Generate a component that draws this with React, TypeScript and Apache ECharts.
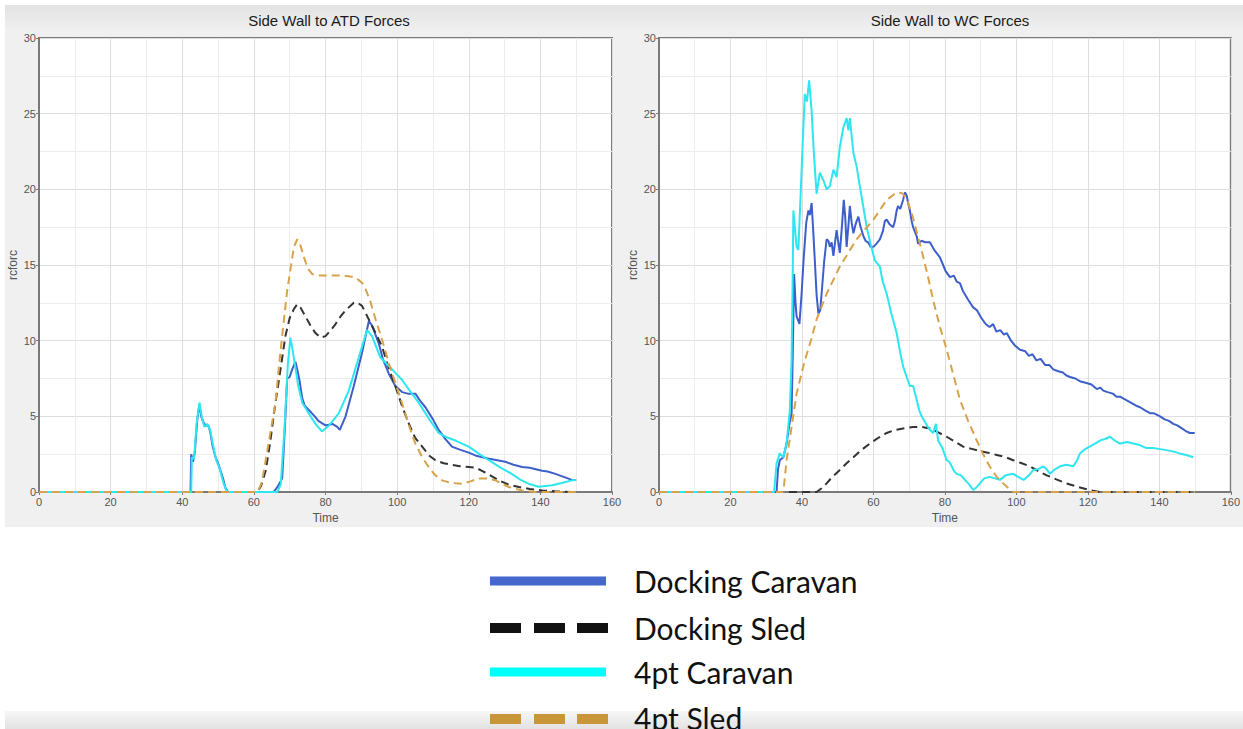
import React, { useEffect, useRef } from "react";
import * as echarts from "echarts";

const titles = ["Side Wall to ATD Forces", "Side Wall to WC Forces"];
const seriesNames = ["Docking Caravan", "Docking Sled", "4pt Caravan", "4pt Sled"];
const xTicks = [0, 20, 40, 60, 80, 100, 120, 140, 160];
const yTicks = [0, 5, 10, 15, 20, 25, 30];

// ---- Side Wall to ATD Forces ----
const atdDockingCaravan: [number, number][] = [
  [0, 0], [42.3, 0], [42.5, 2.5], [43, 2.0], [43.5, 2.6], [44.2, 4.8], [44.8, 5.8], [45.3, 5.0], [45.9, 4.6],
  [46.5, 4.4], [47.3, 4.4], [47.8, 4.0], [48.5, 3.0], [49.3, 2.3], [50, 1.9], [50.7, 1.4], [51.5, 0.8], [52, 0.3],
  [52.8, 0], [65.5, 0], [66.5, 0.3], [67.9, 0.9], [68.6, 4], [69.3, 7.5], [70, 7.6], [70.7, 8.1], [71.6, 8.6],
  [72.2, 8.0], [72.8, 7.3], [73.5, 6.2], [74.2, 5.7], [75.8, 5.3], [77, 5.0], [78, 4.7], [80, 4.4], [81.9, 4.5],
  [83.3, 4.3], [84, 4.1], [85.6, 5.0], [87.9, 7.0], [90.2, 9.2], [92.1, 11.3], [93, 11.0], [94.9, 9.8], [96, 8.8],
  [97.7, 7.8], [99.5, 7.0], [101.4, 6.6], [103, 6.5], [105.1, 6.5], [106.5, 6.0], [107.9, 5.6], [110, 4.8],
  [111.6, 4.1], [113.5, 3.5], [115.3, 3.0], [117.5, 2.8], [120, 2.6], [122, 2.4], [125.6, 2.2], [128, 2.1],
  [130.2, 2.0], [132.5, 1.8], [134.9, 1.65], [137, 1.6], [140.5, 1.4], [142, 1.35], [144.2, 1.2], [146.5, 1.0],
  [148.8, 0.8], [150, 0.8],
];
const atdDockingSled: [number, number][] = [
  [0, 0], [61, 0], [62, 0.4], [63.3, 1.4], [64.5, 3.2], [66, 5.85], [67.5, 8.2], [68.8, 10.3], [70, 11.5],
  [71.2, 12.1], [72.1, 12.4], [73, 12.2], [74.4, 11.6], [75.8, 11.0], [77.2, 10.5], [78.6, 10.2], [80, 10.3],
  [81.5, 10.7], [82.8, 11.1], [84.2, 11.6], [85.6, 12.0], [87.9, 12.5], [89, 12.5], [90.2, 12.3], [92.1, 11.4],
  [94, 10.5], [95.8, 9.6], [97.5, 8.3], [99.5, 7.0], [101.5, 5.6], [103.3, 4.5], [105, 3.6], [107, 3.0],
  [109, 2.4], [110.7, 2.1], [113, 1.9], [115.3, 1.8], [117.5, 1.7], [120, 1.65], [122, 1.6], [123.7, 1.4],
  [126, 1.1], [128.4, 0.77], [131, 0.5], [134, 0.33], [137, 0.2], [140.5, 0.1], [144, 0.05], [148.8, 0], [150, 0],
];
const atd4ptCaravan: [number, number][] = [
  [0, 0], [42.5, 0], [42.7, 2.3], [43.3, 2.2], [44, 4.5], [44.8, 5.9], [45.5, 4.9], [46.2, 4.3], [47, 4.5],
  [47.8, 4.1], [48.5, 3.2], [49.5, 2.1], [50.5, 1.5], [51.5, 0.6], [52.3, 0.1], [53, 0], [66.5, 0], [67.5, 0.5],
  [68.5, 4], [69.5, 8.5], [70.2, 10.2], [70.8, 9.4], [71.4, 8.5], [72.4, 7.0], [73.5, 5.9], [75.3, 5.2],
  [77.2, 4.5], [79, 4.0], [81, 4.4], [83.7, 5.2], [86.5, 6.7], [89.3, 8.9], [91.6, 10.7], [93, 10.3],
  [95.3, 8.9], [98.6, 8.1], [101.4, 7.4], [103.5, 6.7], [106, 5.9], [109, 4.8], [111.6, 3.9], [114, 3.6],
  [116.3, 3.4], [120, 3.0], [123, 2.5], [125.6, 2.1], [129, 1.6], [132, 1.2], [134.5, 0.8], [136.7, 0.55],
  [139.5, 0.35], [143.3, 0.45], [146, 0.6], [148.8, 0.77], [150, 0.8],
];
const atd4ptSled: [number, number][] = [
  [0, 0], [61, 0], [62, 0.5], [62.8, 1.4], [64.3, 3.5], [66, 5.85], [67.3, 9], [68.4, 11.4], [69.3, 13.3],
  [70.2, 14.7], [71.2, 16.2], [72.1, 16.7], [73, 16.3], [74, 15.5], [75, 14.8], [76.3, 14.4], [78, 14.3],
  [80, 14.3], [84, 14.3], [86.5, 14.25], [88, 14.2], [89.3, 14.0], [90.3, 13.8], [91.2, 13.4], [92.5, 12.6],
  [94, 11.4], [96, 9.9], [97.7, 8.5], [99.5, 7.2], [101.4, 5.85], [103.3, 4.4], [105.1, 3.2], [107, 2.3],
  [108.8, 1.65], [110.7, 1.1], [112.6, 0.77], [115, 0.6], [118.1, 0.55], [120.5, 0.7], [122.8, 0.9], [125, 0.9],
  [127.4, 0.77], [129.3, 0.55], [131.2, 0.33], [134.9, 0.1], [138.6, 0], [150, 0],
];

// ---- Side Wall to WC Forces ----
const wcDockingCaravan: [number, number][] = [
  [0, 0], [32.9, 0], [33.3, 1.5], [33.8, 2.1], [34.8, 2.3], [35.7, 3.2], [36.5, 4.5], [37.1, 5.2], [37.5, 10],
  [37.8, 14.4], [38.2, 12.5], [38.5, 11.6], [39.3, 11.1], [39.9, 13.1], [40.5, 15.5], [41.2, 17.8], [41.8, 18.6],
  [42.2, 18.3], [42.7, 19.1], [43.1, 17.5], [43.6, 15.3], [44.1, 13], [44.6, 11.8], [45.1, 12.0], [45.5, 13.1],
  [46.2, 15.2], [46.9, 16.7], [47.4, 16.6], [47.8, 16.2], [48.3, 16.5], [48.8, 15.6], [49.2, 16.4], [49.7, 17.3],
  [50.1, 16.6], [50.6, 15.8], [51.2, 17.6], [51.7, 19.3], [52.1, 18.2], [52.5, 16.2], [53, 17.6], [53.4, 18.9],
  [53.9, 17.8], [54.4, 17.1], [54.9, 17.6], [55.3, 17.9], [55.8, 18.2], [56.3, 17.6], [56.7, 17.3], [57.2, 16.9],
  [57.8, 16.6], [58.5, 16.5], [59.2, 16.2], [60, 16.2], [60.8, 16.4], [61.8, 16.7], [62.6, 17.2], [63.2, 17.9],
  [63.7, 18.0], [64.5, 17.7], [65.5, 17.5], [66, 17.9], [66.5, 18.6], [66.9, 18.9], [67.5, 18.7], [68.3, 19.3],
  [68.8, 19.8], [69.3, 19.6], [69.7, 19.1], [70.2, 18.6], [70.7, 17.9], [71.1, 17.5], [72.1, 16.9], [72.5, 16.4],
  [73.5, 16.6], [74.5, 16.5], [75.8, 16.5], [77, 16.0], [78.6, 15.5], [79.5, 15.0], [80.2, 14.6], [81.4, 14.2],
  [82.5, 14.3], [83.3, 13.9], [84.2, 13.8], [85, 13.3], [86.5, 12.7], [87.9, 12.2], [89, 12.0], [90.2, 11.5],
  [91.4, 11.1], [92.5, 10.9], [93.5, 11.1], [94.4, 10.6], [95.5, 10.7], [96.5, 10.4], [97.3, 10.5], [98.5, 10.0],
  [99.5, 9.7], [101, 9.4], [102.5, 9.3], [103.5, 9.0], [104.5, 9.1], [105.6, 8.7], [106.8, 8.8], [108, 8.4],
  [109.2, 8.4], [110.3, 8.1], [111.5, 8.0], [113, 7.9], [114, 7.7], [115, 7.6], [116.5, 7.5], [118, 7.3],
  [119.6, 7.2], [121, 7.1], [122.5, 6.8], [123.5, 6.9], [124.3, 6.7], [125.5, 6.6], [127, 6.5], [128, 6.3],
  [129, 6.3], [130.5, 6.1], [132, 5.9], [133.5, 5.7], [134.6, 5.6], [136, 5.4], [137.5, 5.2], [138.5, 5.2],
  [140.2, 5.0], [141.5, 4.8], [142.7, 4.7], [143.9, 4.5], [145, 4.4], [146.3, 4.2], [147.6, 4.0], [148.5, 3.9],
  [149.9, 3.9],
];
const wcDockingSled: [number, number][] = [
  [0, 0], [44.1, 0], [45.5, 0.25], [46.9, 0.57], [48.5, 1.0], [50.6, 1.45], [52.5, 1.9], [54.4, 2.3],
  [56.5, 2.75], [59, 3.2], [61.5, 3.6], [63.7, 3.9], [66, 4.1], [68.3, 4.2], [71.1, 4.3], [73.5, 4.3],
  [75.8, 4.2], [78, 3.95], [80.5, 3.65], [83, 3.3], [85.1, 3.0], [87.5, 2.85], [89.8, 2.7], [92, 2.6],
  [94.5, 2.45], [97, 2.3], [99.1, 2.1], [101.5, 1.9], [103.8, 1.7], [106, 1.4], [108.5, 1.1], [111, 0.85],
  [114, 0.57], [117, 0.35], [120.5, 0.13], [123.4, 0], [150, 0],
];
const wc4ptCaravan: [number, number][] = [
  [0, 0], [32.2, 0], [32.9, 1.9], [33.8, 2.55], [34.8, 2.3], [35.7, 3.2], [36.6, 5.4], [37.1, 8.7], [37.4, 14],
  [37.6, 18.6], [38, 17.5], [38.5, 16.2], [39, 16.0], [39.6, 19.5], [40.2, 23], [40.8, 26.3], [41.4, 25.8],
  [42, 27.2], [42.7, 25.2], [43.3, 22.5], [44.1, 19.7], [45, 21.1], [46, 20.6], [46.9, 20.0], [47.8, 20.2],
  [48.8, 21.3], [49.7, 20.8], [50.6, 22.8], [51.6, 24.1], [52.5, 24.7], [53, 23.9], [53.4, 24.7], [54.4, 22.4],
  [55.3, 21.5], [56.2, 20.2], [57.2, 18.8], [58.1, 17.5], [59.2, 16.4], [60.4, 15.3], [61.8, 14.9], [62.5, 14.0],
  [63.7, 13.1], [65, 11.8], [66.5, 10.5], [67.5, 9.2], [68.3, 8.3], [69.3, 7.6], [70.2, 7.0], [71.1, 7.0],
  [72.1, 6.1], [72.8, 5.4], [73.5, 5.0], [74.5, 4.6], [75.5, 4.2], [76.7, 3.9], [77.5, 4.5], [78.1, 3.4],
  [79.3, 2.9], [80.5, 2.1], [81.2, 2.0], [81.9, 1.7], [82.5, 1.4], [83.3, 1.2], [84.5, 1.1], [85.6, 0.8],
  [86.8, 0.5], [87.9, 0.13], [88.8, 0.3], [89.8, 0.57], [91, 0.9], [92.5, 1.0], [94, 0.9], [95.4, 0.8],
  [97, 1.1], [99.1, 1.2], [100.5, 1.0], [102, 0.8], [103.5, 1.1], [104.7, 1.45], [106, 1.5], [107.5, 1.7],
  [108.5, 1.5], [109.4, 1.2], [110.8, 1.5], [112.2, 1.7], [114, 1.8], [115.9, 1.7], [117, 2.1], [117.8, 2.55],
  [119, 2.8], [120.5, 3.0], [122, 3.2], [123.4, 3.4], [124.8, 3.5], [126.2, 3.65], [127.5, 3.4], [129, 3.2],
  [131, 3.3], [132.7, 3.2], [134.5, 3.1], [136.4, 2.9], [138.5, 2.9], [141.1, 2.8], [143.5, 2.7], [145.7, 2.55],
  [147.5, 2.45], [149.5, 2.3],
];
const wc4ptSled: [number, number][] = [
  [0, 0], [34.8, 0], [35.7, 2.1], [37.1, 4.3], [38.5, 6.5], [40.8, 8.7], [42.5, 10], [44.1, 11.4], [46.9, 13.1],
  [50.6, 14.9], [55.3, 16.7], [60, 18.0], [63.7, 19.3], [66.5, 19.8], [68, 19.75], [69.3, 19.4], [71, 18.2],
  [73, 16.4], [75, 14.5], [76.7, 12.7], [78.5, 11], [80.5, 9.4], [82.3, 7.8], [84.2, 6.1], [86.5, 4.7],
  [88.9, 3.4], [90.7, 2.5], [92.5, 1.7], [94.5, 1.0], [96.3, 0.57], [97.8, 0.25], [99.1, 0], [150, 0],
];

const colors = ["#3d5fca", "#333333", "#2ee6f0", "#d8a24a"];
const legendColors = ["#4468cc", "#111111", "#00ffff", "#c9963a"];
const dashed = [false, true, false, true];

export default function App() {
  const ref = useRef<HTMLDivElement>(null);
  useEffect(() => {
    if (!ref.current) return;
    const chart = echarts.init(ref.current, undefined, { renderer: "svg" });
    const grids = [
      { left: 39, top: 38, width: 573, height: 454 },
      { left: 659, top: 38, width: 572, height: 454 },
    ];
    const axisFont = { fontFamily: "Liberation Sans Narrow, Liberation Sans, Arial, sans-serif", fontSize: 11, color: "#555" };
    const xAxes = [0, 1].map((i) => ({
      type: "value",
      gridIndex: i,
      min: xTicks[0],
      max: xTicks[xTicks.length - 1],
      interval: 20,
      name: "Time",
      nameLocation: "middle",
      nameGap: 17,
      nameTextStyle: { ...axisFont, fontSize: 12 },
      axisLine: { show: true, onZero: false, lineStyle: { color: "#7a7a7a", width: 2 } },
      axisTick: { show: true, length: 3, lineStyle: { color: "#7a7a7a" } },
      axisLabel: { ...axisFont, margin: 4 },
      splitLine: { show: true, lineStyle: { color: "#dedede", width: 1 } },
      minorTick: { show: false, splitNumber: 2 },
      minorSplitLine: { show: true, lineStyle: { color: "#ececec", width: 1 } },
    }));
    const yAxes = [0, 1].map((i) => ({
      type: "value",
      gridIndex: i,
      min: yTicks[0],
      max: yTicks[yTicks.length - 1],
      interval: 5,
      name: "rcforc",
      nameLocation: "middle",
      nameGap: 20,
      nameTextStyle: { ...axisFont, fontSize: 12 },
      axisLine: { show: true, lineStyle: { color: "#7a7a7a", width: 2 } },
      axisTick: { show: true, length: 3, lineStyle: { color: "#7a7a7a" } },
      axisLabel: { ...axisFont, margin: 3 },
      splitLine: { show: true, lineStyle: { color: "#dedede", width: 1 } },
      minorTick: { show: false, splitNumber: 2 },
      minorSplitLine: { show: true, lineStyle: { color: "#ececec", width: 1 } },
    }));
    const groups = [
      [atdDockingCaravan, atdDockingSled, atd4ptCaravan, atd4ptSled],
      [wcDockingCaravan, wcDockingSled, wc4ptCaravan, wc4ptSled],
    ];
    const drawOrder = [3, 1, 2, 0];
    const series: any[] = [];
    groups.forEach((g, gi) => {
      drawOrder.forEach((si) => {
        series.push({
          type: "line",
          name: seriesNames[si],
          xAxisIndex: gi,
          yAxisIndex: gi,
          data: g[si],
          showSymbol: false,
          symbol: "none",
          z: 3 + si,
          lineStyle: { color: colors[si], width: 2, type: dashed[si] ? [8, 5] : "solid" },
          itemStyle: { color: colors[si] },
        });
      });
    });

    const legendX = 490;
    const legendYs = [581, 628, 672, 718];
    const legendGraphics: any[] = [];
    seriesNames.forEach((n, i) => {
      const y = legendYs[i];
      if (dashed[i]) {
        [0, 44, 87].forEach((dx) => {
          legendGraphics.push({
            type: "rect",
            shape: { x: legendX + dx, y: (i === 3 ? 719 : y) - 5, width: 31, height: 10 },
            style: { fill: legendColors[i] },
            z: 10,
          });
        });
      } else {
        legendGraphics.push({
          type: "rect",
          shape: { x: legendX, y: y - 4.5, width: 116, height: 9 },
          style: { fill: legendColors[i] },
          z: 10,
        });
      }
      legendGraphics.push({
        type: "text",
        x: 634,
        y,
        style: {
          text: n,
          fill: "#111",
          font: '30px Lato, "Open Sans", sans-serif',
          textVerticalAlign: "middle",
          verticalAlign: "middle",
        },
        z: 11,
      });
    });

    const titleStyle = { fontFamily: "Liberation Sans, Arial, sans-serif", fontSize: 15, fontWeight: "normal", color: "#1a1a1a" };
    chart.setOption({
      animation: false,
      backgroundColor: "#ffffff",
      title: [
        { text: titles[0], left: 324, top: 8, textAlign: "center", textStyle: titleStyle },
        { text: titles[1], left: 945, top: 8, textAlign: "center", textStyle: titleStyle },
      ],
      grid: grids.map((g) => ({ ...g, show: true, backgroundColor: "#ffffff", borderColor: "#7a7a7a", borderWidth: 2 })),
      xAxis: xAxes,
      yAxis: yAxes,
      series,
      graphic: [
        {
          type: "rect",
          shape: { x: 5, y: 5, width: 1238, height: 522 },
          style: {
            fill: new echarts.graphic.LinearGradient(0, 0, 0, 1, [
              { offset: 0, color: "#e3e3e3" },
              { offset: 0.05, color: "#f0f0f0" },
              { offset: 1, color: "#f0f0f0" },
            ]),
          },
          z: -10,
          silent: true,
        },
        {
          type: "rect",
          shape: { x: 5, y: 711, width: 1238, height: 18 },
          style: {
            fill: new echarts.graphic.LinearGradient(0, 0, 0, 1, [
              { offset: 0, color: "#f7f7f7" },
              { offset: 1, color: "#e2e2e2" },
            ]),
          },
          z: 1,
          silent: true,
        },
        ...legendGraphics,
      ],
    });
    return () => chart.dispose();
  }, []);
  return (
    <div
      ref={ref}
      style={{ position: "fixed", left: 0, top: 0, width: 1243, height: 729 }}
    />
  );
}
